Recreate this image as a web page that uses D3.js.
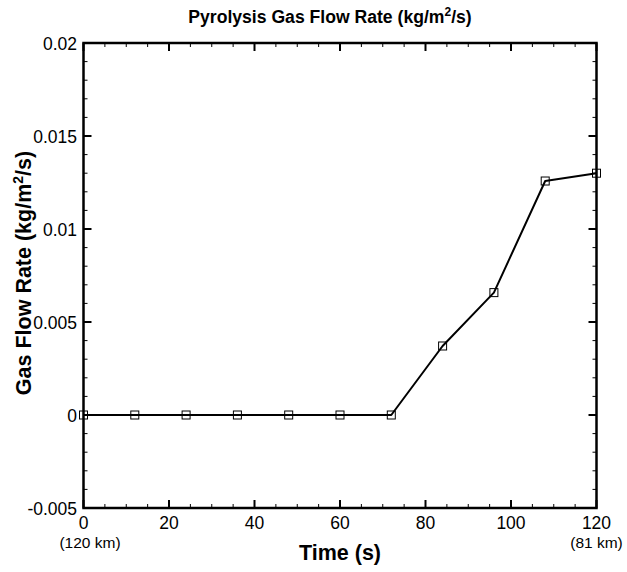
<!DOCTYPE html>
<html><head><meta charset="utf-8">
<script src="https://cdn.jsdelivr.net/npm/d3@7"></script>
<style>body{margin:0;background:#fff}svg{display:block}text{font-family:Arial,"Liberation Sans",sans-serif}</style>
</head><body>
<svg id="c" width="627" height="572"></svg>
<script>
const times = [0, 12, 24, 36, 48, 60, 72, 84, 96, 108, 120];
const flowRates = [0, 0, 0, 0, 0, 0, 0, 0.00371, 0.00658, 0.01258, 0.0130];
const xTicks = [0, 20, 40, 60, 80, 100, 120];
const yTicks = [-0.005, 0, 0.005, 0.01, 0.015, 0.02];
const yTickLabels = ["-0.005", "0", "0.005", "0.01", "0.015", "0.02"];
const altitudeLabels = [{t: 0, label: "(120 km)", dx: 6.5}, {t: 120, label: "(81 km)", dx: 0}];

const svg = d3.select("#c");
const L = 83.5, R = 596.5, T = 43, B = 508;
const x = d3.scaleLinear().domain([0, 120]).range([L, R]);
const y = d3.scaleLinear().domain([-0.005, 0.02]).range([B, T]);

const xMinor = d3.range(0, 121, 5).filter(v => v % 20 !== 0);
const yMinor = d3.range(-5, 21, 1).map(v => v / 1000).filter((v, i) => (i % 5) !== 0);
const g = svg.append("g");
function ticks(vals, len, w) {
  vals.forEach(v => {
    g.append("line").attr("x1", x(v)).attr("x2", x(v)).attr("y1", B).attr("y2", B - len).attr("stroke", "#000").attr("stroke-width", w);
    g.append("line").attr("x1", x(v)).attr("x2", x(v)).attr("y1", T).attr("y2", T + len).attr("stroke", "#000").attr("stroke-width", w);
  });
}
function yticks(vals, len, w) {
  vals.forEach(v => {
    g.append("line").attr("y1", y(v)).attr("y2", y(v)).attr("x1", L).attr("x2", L + len).attr("stroke", "#000").attr("stroke-width", w);
    g.append("line").attr("y1", y(v)).attr("y2", y(v)).attr("x1", R).attr("x2", R - len).attr("stroke", "#000").attr("stroke-width", w);
  });
}
ticks(xMinor, 4, 1);
ticks(xTicks, 8, 2);
yticks(yMinor, 4, 1);
yticks(yTicks, 8, 2);

svg.append("rect").attr("x", L).attr("y", T).attr("width", R - L).attr("height", B - T)
  .attr("fill", "none").attr("stroke", "#000").attr("stroke-width", 2.5);

svg.selectAll(".xl").data(xTicks).enter().append("text")
  .attr("x", d => x(d)).attr("y", 529).attr("text-anchor", "middle")
  .attr("font-size", 17.5).text(d => d);
svg.selectAll(".yl").data(yTicks).enter().append("text")
  .attr("x", L - 6.5).attr("y", d => y(d) + 6.5).attr("text-anchor", "end")
  .attr("font-size", 17.5).text((d, i) => yTickLabels[i]);
svg.selectAll(".al").data(altitudeLabels).enter().append("text")
  .attr("x", d => x(d.t) + d.dx).attr("y", 548).attr("text-anchor", "middle")
  .attr("font-size", 15.5).text(d => d.label);

const line = d3.line().x((d, i) => x(times[i])).y(d => y(d));
svg.append("path").datum(flowRates).attr("d", line).attr("fill", "none")
  .attr("stroke", "#000").attr("stroke-width", 2).attr("stroke-linejoin", "round");
svg.selectAll(".m").data(flowRates).enter().append("rect")
  .attr("x", (d, i) => x(times[i]) - 4).attr("y", d => y(d) - 4)
  .attr("width", 8).attr("height", 8).attr("fill", "none").attr("stroke", "#000").attr("stroke-width", 1);

const t = svg.append("text").attr("x", 330).attr("y", 23).attr("text-anchor", "middle")
  .attr("font-size", 17.6).attr("font-weight", "bold");
t.append("tspan").text("Pyrolysis Gas Flow Rate (kg/m");
t.append("tspan").attr("dy", -7).attr("font-size", 12).text("2");
t.append("tspan").attr("dy", 7).text("/s)");

svg.append("text").attr("x", 340).attr("y", 560).attr("text-anchor", "middle")
  .attr("font-size", 21.5).attr("font-weight", "bold").text("Time (s)");

const yt = svg.append("text").attr("transform", "translate(30.5,273) rotate(-90)")
  .attr("text-anchor", "middle").attr("font-size", 21.5).attr("font-weight", "bold");
yt.append("tspan").text("Gas Flow Rate (kg/m");
yt.append("tspan").attr("dy", -8).attr("font-size", 14).text("2");
yt.append("tspan").attr("dy", 8).text("/s)");
</script>
</body></html>
